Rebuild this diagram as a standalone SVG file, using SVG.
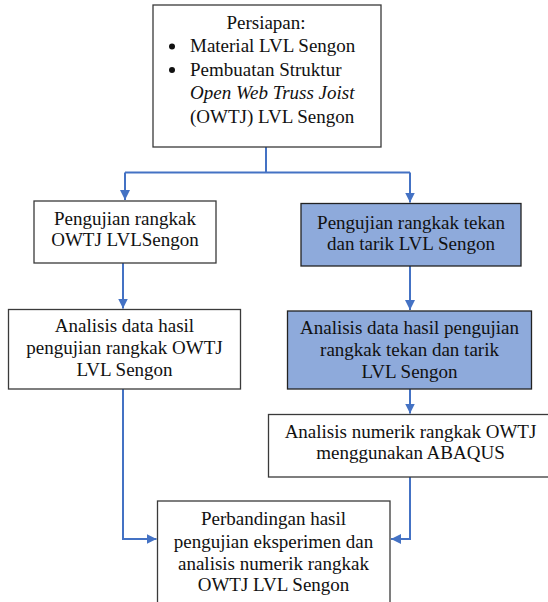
<svg xmlns="http://www.w3.org/2000/svg" width="548" height="602" viewBox="0 0 548 602">
<style>
.box{fill:#ffffff;stroke:#3a3a3a;stroke-width:1.3}
.blue{fill:#8eaadb;stroke:#222;stroke-width:1.3}
text{font-family:'Liberation Serif','Times New Roman',serif;font-size:19px;fill:#111}
.c{text-anchor:middle}
.con{fill:none;stroke:#4472c4;stroke-width:2}
</style>
<defs>
<marker id="ah" viewBox="0 0 10 10" refX="10" refY="5" markerWidth="5" markerHeight="5" markerUnits="strokeWidth" orient="auto">
<path d="M0,0 L10,5 L0,10 z" fill="#4472c4"/>
</marker>
</defs>
<rect width="548" height="602" fill="#ffffff"/>
<g id="connectors">
<path class="con" d="M266,147 V172.5 M125,172.5 H410"/>
<path class="con" d="M125,172.5 V200" marker-end="url(#ah)"/>
<path class="con" d="M410,172.5 V202.5" marker-end="url(#ah)"/>
<path class="con" d="M123,263 V308.5" marker-end="url(#ah)"/>
<path class="con" d="M410,266 V310" marker-end="url(#ah)"/>
<path class="con" d="M410,389 V413.5" marker-end="url(#ah)"/>
<path class="con" d="M123,389 V539 H156.5" marker-end="url(#ah)"/>
<path class="con" d="M410,477 V539 H391" marker-end="url(#ah)"/>
</g>
<g id="n-persiapan">
<rect class="box" x="153" y="5" width="228" height="142"/>
<text class="c" x="266" y="29">Persiapan:</text>
<circle cx="172" cy="46.5" r="3" fill="#111"/>
<text x="190" y="52">Material LVL Sengon</text>
<circle cx="172" cy="70" r="3" fill="#111"/>
<text x="190" y="75.5">Pembuatan Struktur</text>
<text x="190" y="99" font-style="italic">Open Web Truss Joist</text>
<text x="190" y="122.5">(OWTJ) LVL Sengon</text>
</g>
<g id="n-uji-owtj">
<rect class="box" x="34" y="201" width="182" height="62"/>
<text class="c" x="125" y="225">Pengujian rangkak</text>
<text class="c" x="125" y="246">OWTJ LVLSengon</text>
</g>
<g id="n-uji-tekan">
<rect class="blue" x="301" y="203.5" width="220" height="62.5"/>
<text class="c" x="411" y="228.5">Pengujian rangkak tekan</text>
<text class="c" x="411" y="249.5">dan tarik LVL Sengon</text>
</g>
<g id="n-analisis-owtj">
<rect class="box" x="8.5" y="309.5" width="232" height="79.5"/>
<text class="c" x="124.5" y="332">Analisis data hasil</text>
<text class="c" x="124.5" y="353.5">pengujian rangkak OWTJ</text>
<text class="c" x="124.5" y="375.5">LVL Sengon</text>
</g>
<g id="n-analisis-tekan">
<rect class="blue" x="287.5" y="311" width="244" height="78"/>
<text class="c" x="409.5" y="333.5">Analisis data hasil pengujian</text>
<text class="c" x="409.5" y="355.5">rangkak tekan dan tarik</text>
<text class="c" x="409.5" y="377.5">LVL Sengon</text>
</g>
<g id="n-numerik">
<rect class="box" x="268.5" y="414.5" width="285" height="62.5"/>
<text class="c" x="410.5" y="437.5">Analisis numerik rangkak OWTJ</text>
<text class="c" x="410.5" y="459">menggunakan ABAQUS</text>
</g>
<g id="n-perbandingan">
<rect class="box" x="157.5" y="501" width="232.5" height="120"/>
<text class="c" x="273.5" y="525">Perbandingan hasil</text>
<text class="c" x="273.5" y="547.5">pengujian eksperimen dan</text>
<text class="c" x="273.5" y="569.5">analisis numerik rangkak</text>
<text class="c" x="273.5" y="591">OWTJ LVL Sengon</text>
</g>
</svg>
